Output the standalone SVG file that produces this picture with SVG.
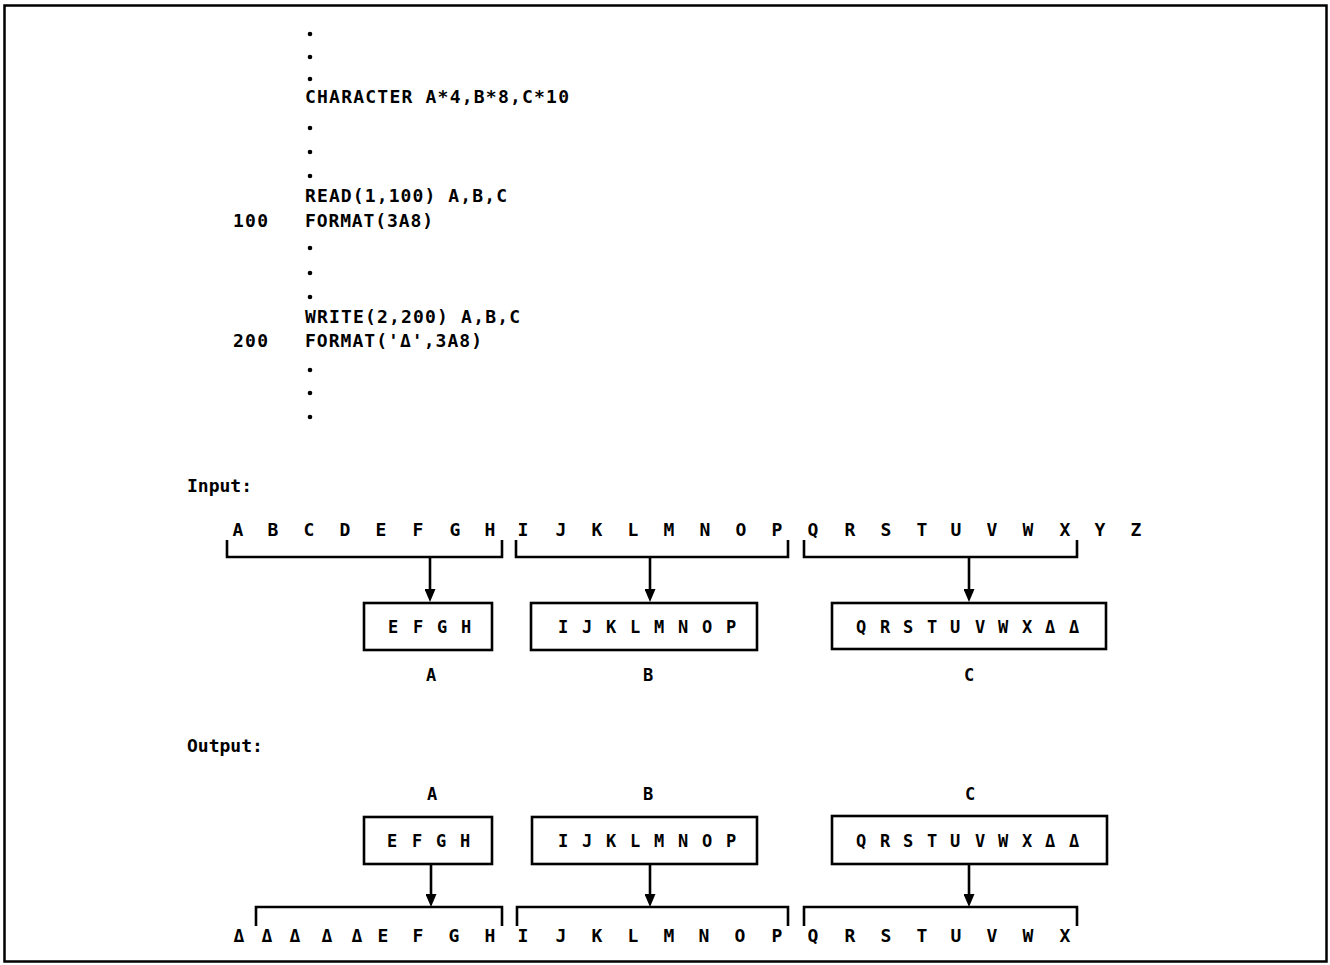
<svg xmlns="http://www.w3.org/2000/svg" width="1330" height="965" viewBox="0 0 1330 965">
<style>
text{font-family:"DejaVu Sans Mono","Liberation Mono",monospace;font-weight:bold;fill:#000}
.code{font-size:18px}
.row{font-size:18px;text-anchor:middle}
.bx{font-size:17px;text-anchor:middle}
.lbl{font-size:17px;text-anchor:middle}
.box{fill:#fff;stroke:#000;stroke-width:2.6}
.br{fill:none;stroke:#000;stroke-width:2.6}
.arr{stroke:#000;stroke-width:2.6;fill:none;marker-end:url(#ah)}
</style>
<defs>
<marker id="ah" viewBox="0 0 13 11" refX="1" refY="5.5" markerWidth="13" markerHeight="11" markerUnits="userSpaceOnUse" orient="auto">
<path d="M0,0 L13,5.5 L0,11 z" fill="#000"/>
</marker>
</defs>
<rect x="0" y="0" width="1330" height="965" fill="#fff"/>
<rect id="frame" x="4.5" y="5.5" width="1322" height="956" fill="none" stroke="#000" stroke-width="2.5"/>

<g id="code">
<circle cx="310" cy="34" r="2.3"/>
<circle cx="310" cy="57" r="2.3"/>
<circle cx="310" cy="79" r="2.3"/>
<text class="code" x="305" y="103" textLength="264" lengthAdjust="spacing">CHARACTER A*4,B*8,C*10</text>
<circle cx="310" cy="128" r="2.3"/>
<circle cx="310" cy="152" r="2.3"/>
<circle cx="310" cy="176" r="2.3"/>
<text class="code" x="305" y="202" textLength="202" lengthAdjust="spacing">READ(1,100) A,B,C</text>
<text class="code" x="233" y="227" textLength="35" lengthAdjust="spacing">100</text>
<text class="code" x="305" y="227" textLength="128" lengthAdjust="spacing">FORMAT(3A8)</text>
<circle cx="310" cy="248" r="2.3"/>
<circle cx="310" cy="273" r="2.3"/>
<circle cx="310" cy="297" r="2.3"/>
<text class="code" x="305" y="323" textLength="215" lengthAdjust="spacing">WRITE(2,200) A,B,C</text>
<text class="code" x="233" y="347" textLength="35" lengthAdjust="spacing">200</text>
<text class="code" x="305" y="347" textLength="177" lengthAdjust="spacing">FORMAT('Δ',3A8)</text>
<circle cx="310" cy="370" r="2.3"/>
<circle cx="310" cy="393" r="2.3"/>
<circle cx="310" cy="417" r="2.3"/>
</g>

<g id="input">
<text class="code" x="187" y="492">Input:</text>
<g id="input-row">
<text class="row" x="238" y="536">A</text>
<text class="row" x="273" y="536">B</text>
<text class="row" x="309" y="536">C</text>
<text class="row" x="345" y="536">D</text>
<text class="row" x="381" y="536">E</text>
<text class="row" x="418" y="536">F</text>
<text class="row" x="455" y="536">G</text>
<text class="row" x="490" y="536">H</text>
<text class="row" x="523" y="536">I</text>
<text class="row" x="561" y="536">J</text>
<text class="row" x="597" y="536">K</text>
<text class="row" x="633" y="536">L</text>
<text class="row" x="669" y="536">M</text>
<text class="row" x="705" y="536">N</text>
<text class="row" x="741" y="536">O</text>
<text class="row" x="777" y="536">P</text>
<text class="row" x="813" y="536">Q</text>
<text class="row" x="850" y="536">R</text>
<text class="row" x="886" y="536">S</text>
<text class="row" x="922" y="536">T</text>
<text class="row" x="956" y="536">U</text>
<text class="row" x="992" y="536">V</text>
<text class="row" x="1028" y="536">W</text>
<text class="row" x="1065" y="536">X</text>
<text class="row" x="1100" y="536">Y</text>
<text class="row" x="1136" y="536">Z</text>
</g>
<g id="input-brackets">
<path class="br" d="M227,540 V557 H502 V540"/>
<path class="br" d="M516,540 V557 H788 V540"/>
<path class="br" d="M804,540 V557 H1077 V540"/>
</g>
</g>

<g id="in-A">
<rect class="box" x="364" y="603" width="128" height="47"/>
<text class="bx" x="393" y="633">E</text><text class="bx" x="418" y="633">F</text><text class="bx" x="442" y="633">G</text><text class="bx" x="466" y="633">H</text>
<text class="lbl" x="431" y="681">A</text>
</g>
<g id="in-B">
<rect class="box" x="531" y="603" width="226" height="47"/>
<text class="bx" x="563" y="633">I</text><text class="bx" x="587" y="633">J</text><text class="bx" x="611" y="633">K</text><text class="bx" x="635" y="633">L</text><text class="bx" x="659" y="633">M</text><text class="bx" x="683" y="633">N</text><text class="bx" x="707" y="633">O</text><text class="bx" x="731" y="633">P</text>
<text class="lbl" x="648" y="681">B</text>
</g>
<g id="in-C">
<rect class="box" x="832" y="603" width="274" height="46"/>
<text class="bx" x="861" y="633">Q</text><text class="bx" x="885" y="633">R</text><text class="bx" x="908" y="633">S</text><text class="bx" x="932" y="633">T</text><text class="bx" x="955" y="633">U</text><text class="bx" x="980" y="633">V</text><text class="bx" x="1003" y="633">W</text><text class="bx" x="1027" y="633">X</text><text class="bx" x="1050" y="633">Δ</text><text class="bx" x="1074" y="633">Δ</text>
<text class="lbl" x="969" y="681">C</text>
</g>

<g id="output">
<text class="code" x="187" y="752">Output:</text>
</g>
<g id="out-A">
<text class="lbl" x="432" y="800">A</text>
<rect class="box" x="364" y="817" width="128" height="47"/>
<text class="bx" x="392" y="847">E</text><text class="bx" x="417" y="847">F</text><text class="bx" x="441" y="847">G</text><text class="bx" x="465" y="847">H</text>
</g>
<g id="out-B">
<text class="lbl" x="648" y="800">B</text>
<rect class="box" x="532" y="817" width="225" height="47"/>
<text class="bx" x="563" y="847">I</text><text class="bx" x="587" y="847">J</text><text class="bx" x="611" y="847">K</text><text class="bx" x="635" y="847">L</text><text class="bx" x="659" y="847">M</text><text class="bx" x="683" y="847">N</text><text class="bx" x="707" y="847">O</text><text class="bx" x="731" y="847">P</text>
</g>
<g id="out-C">
<text class="lbl" x="970" y="800">C</text>
<rect class="box" x="832" y="816" width="275" height="48"/>
<text class="bx" x="861" y="847">Q</text><text class="bx" x="885" y="847">R</text><text class="bx" x="908" y="847">S</text><text class="bx" x="932" y="847">T</text><text class="bx" x="955" y="847">U</text><text class="bx" x="980" y="847">V</text><text class="bx" x="1003" y="847">W</text><text class="bx" x="1027" y="847">X</text><text class="bx" x="1050" y="847">Δ</text><text class="bx" x="1074" y="847">Δ</text>
</g>

<g id="output-row">
<text class="row" x="239" y="942">Δ</text>
<text class="row" x="267" y="942">Δ</text>
<text class="row" x="295" y="942">Δ</text>
<text class="row" x="327" y="942">Δ</text>
<text class="row" x="357" y="942">Δ</text>
<text class="row" x="383" y="942">E</text>
<text class="row" x="418" y="942">F</text>
<text class="row" x="454" y="942">G</text>
<text class="row" x="490" y="942">H</text>
<text class="row" x="523" y="942">I</text>
<text class="row" x="561" y="942">J</text>
<text class="row" x="597" y="942">K</text>
<text class="row" x="633" y="942">L</text>
<text class="row" x="669" y="942">M</text>
<text class="row" x="704" y="942">N</text>
<text class="row" x="740" y="942">O</text>
<text class="row" x="777" y="942">P</text>
<text class="row" x="813" y="942">Q</text>
<text class="row" x="850" y="942">R</text>
<text class="row" x="886" y="942">S</text>
<text class="row" x="922" y="942">T</text>
<text class="row" x="956" y="942">U</text>
<text class="row" x="992" y="942">V</text>
<text class="row" x="1028" y="942">W</text>
<text class="row" x="1065" y="942">X</text>
</g>
<g id="output-brackets">
<path class="br" d="M256,926 V907 H502 V926"/>
<path class="br" d="M517,926 V907 H788 V926"/>
<path class="br" d="M804,926 V907 H1077 V926"/>
</g>

<g id="connectors">
<line class="arr" x1="430" y1="557" x2="430" y2="590"/>
<line class="arr" x1="650" y1="557" x2="650" y2="590"/>
<line class="arr" x1="969" y1="557" x2="969" y2="590"/>
<line class="arr" x1="431" y1="864" x2="431" y2="895"/>
<line class="arr" x1="650" y1="864" x2="650" y2="895"/>
<line class="arr" x1="969" y1="864" x2="969" y2="895"/>
</g>
</svg>
